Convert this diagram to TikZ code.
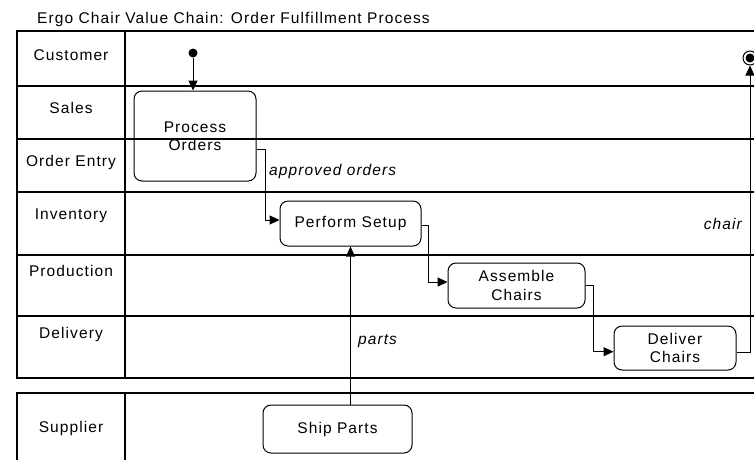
\documentclass[tikz,border=0pt]{standalone}
\usepackage{fontspec}
\setmainfont{Liberation Sans}[LetterSpace=7]
\usetikzlibrary{arrows.meta}
\newcommand\lanefont{\fontsize{15.5}{18.5}\selectfont}
\begin{document}
\begin{tikzpicture}[x=1pt,y=-1pt,
  lane/.style={line width=1.3pt},
  act/.style={draw, line width=1pt, rounded corners=8pt, align=center, font=\lanefont, inner sep=0pt},
  flow/.style={line width=1pt, -{Triangle[length=10pt,width=9pt]}},
  lbl/.style={font=\lanefont, anchor=base, inner sep=0pt},
  note/.style={font=\lanefont\itshape, inner sep=0pt}]
\useasboundingbox (0,0) rectangle (754,459);
\clip (0,0) rectangle (754,459);
% title
\node[font=\lanefont, anchor=base west, inner sep=0pt] (title) at (37,23.5) {Ergo Chair Value Chain: Order Fulfillment Process};
% main pool
\draw[lane] (17,31) rectangle (770,378);
\draw[lane] (125,31) -- (125,378);
\foreach \yy in {86,139,192,255,316} { \draw[lane] (17,\yy) -- (770,\yy); }
% supplier pool
\draw[lane] (17,393) rectangle (770,470);
\draw[lane] (125,393) -- (125,470);
% lane labels
\node[lbl] (lc) at (71,60) {Customer};
\node[lbl] (ls) at (71,113.5) {Sales};
\node[lbl] (lo) at (71,166.5) {Order Entry};
\node[lbl] (li) at (71,219.5) {Inventory};
\node[lbl] (lp) at (71,276) {Production};
\node[lbl] (ld) at (71,338.5) {Delivery};
\node[lbl] (lsu) at (71,432.5) {Supplier};
% activities
\node[act, minimum width=122pt, minimum height=90pt] (PO) at (195,136) {Process\\Orders};
\node[act, minimum width=141pt, minimum height=45pt] (PS) at (350.5,223.5) {Perform Setup};
\node[act, minimum width=137pt, minimum height=45pt] (AC) at (516.5,285.5) {Assemble\\Chairs};
\node[act, minimum width=122pt, minimum height=44pt] (DC) at (675,348) {Deliver\\Chairs};
\node[act, minimum width=149pt, minimum height=48pt] (SP) at (337.5,429) {Ship Parts};
% start / end
\node[circle, fill, inner sep=0pt, minimum size=9pt] (start) at (193,53) {};
\node[circle, draw, line width=1pt, inner sep=0pt, minimum size=14pt] (fin) at (750,58) {};
\node[circle, fill, inner sep=0pt, minimum size=9pt] (finin) at (fin) {};
% flows
\draw[flow] (start) -- (start |- PO.north);
\draw[flow] ([yshift=-13pt]PO.east) -- ++(9,0) |- ([yshift=3.5pt]PS.west);
\draw[flow] ([yshift=-1.5pt]PS.east) -- ++(7,0) |- ([yshift=3.5pt]AC.west);
\draw[flow] (AC.east) -- ++(8,0) |- ([yshift=-3.7pt]DC.west);
\draw[flow] ([yshift=-4pt]DC.east) -| (fin.south);
\draw[flow] (PS.south |- SP.north) -- (PS.south);
% labels
\node[note, anchor=west] (ao) at (269,171) {approved orders};
\node[note, anchor=east] (ch) at (742,224) {chair};
\node[note, anchor=west] (pa) at (358,341) {parts};
\end{tikzpicture}
\end{document}
